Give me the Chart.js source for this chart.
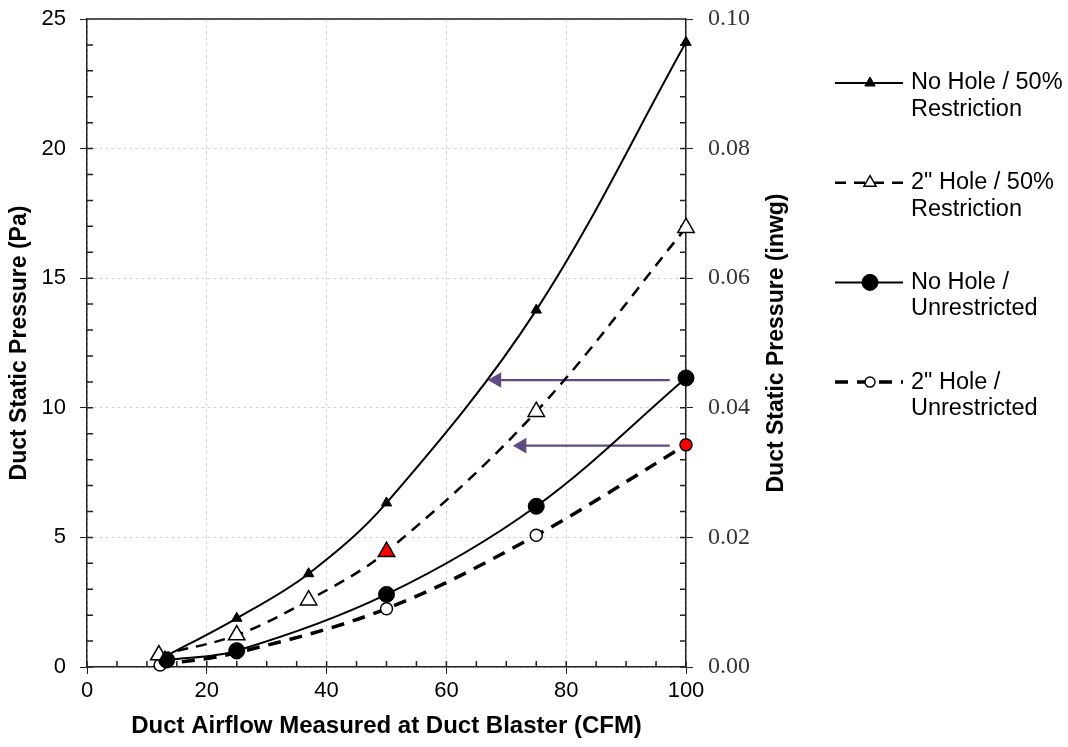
<!DOCTYPE html>
<html>
<head>
<meta charset="utf-8">
<script src="https://cdn.jsdelivr.net/npm/chart.js@4.4.0/dist/chart.umd.min.js"></script>
<style>
html, body { margin: 0; padding: 0; background: #fff; }
</style>
</head>
<body>
<canvas id="chart" width="1068" height="747"></canvas>
<script>
// airflow (CFM) and duct static pressure (Pa)
const cfmNoHole50 = [13, 25, 37, 50, 75, 100];
const paNoHole50 = [0.4, 1.88, 3.6, 6.33, 13.77, 24.1];

const cfmHole50 = [12, 25, 37, 50, 75, 100];
const paHole50 = [0.46, 1.23, 2.58, 4.45, 9.85, 16.95];

const cfmNoHoleUnr = [13.3, 25, 50, 75, 100];
const paNoHoleUnr = [0.27, 0.63, 2.8, 6.2, 11.15];

const cfmHoleUnr = [12.2, 25, 50, 75, 100];
const paHoleUnr = [0.08, 0.55, 2.25, 5.08, 8.57];

// arrows: [start, head] airflow and the pressure level they sit at
const arrowUpperCfm = [97.3, 68.4];
const arrowUpperPa = 11.07;
const arrowLowerCfm = [97.3, 72.6];
const arrowLowerPa = 8.54;

const seriesLabels = [
    ['No Hole / 50%', 'Restriction'],
    ['2" Hole / 50%', 'Restriction'],
    ['No Hole /', 'Unrestricted'],
    ['2" Hole /', 'Unrestricted']
];

const xTicks = [0, 20, 40, 60, 80, 100];
const yTicks = [0, 5, 10, 15, 20, 25];
const y2Ticks = [0, 0.02, 0.04, 0.06, 0.08, 0.10];

function pairs(xs, ys) {
    return xs.map((v, i) => ({ x: v, y: ys[i] }));
}

const SANS = '"Liberation Sans", Arial, sans-serif';
const SERIF = '"Liberation Serif", "Times New Roman", serif';
const ARROW = '#5e4b85';
const RED = '#ff0000';

Chart.defaults.font.family = SANS;
Chart.defaults.color = '#000';

function drawMarker(ctx, style, x, y, r, fill, lw) {
    ctx.beginPath();
    if (style === 'triangle') {
        ctx.moveTo(x, y - r);
        ctx.lineTo(x + r * 0.866, y + r * 0.5);
        ctx.lineTo(x - r * 0.866, y + r * 0.5);
        ctx.closePath();
    } else {
        ctx.arc(x, y, r, 0, Math.PI * 2);
    }
    ctx.fillStyle = fill;
    ctx.fill();
    ctx.lineWidth = lw;
    ctx.strokeStyle = '#000';
    ctx.stroke();
}

// vertical axes: no extra room for the end labels, the plot runs to the padding
function fitVertical(width) {
    return s => {
        s.width = width;
        s.paddingTop = 0;
        s.paddingBottom = 0;
    };
}

const extras = {
    id: 'extras',
    beforeDatasetsDraw(chart) {
        const { ctx, chartArea: a, scales: { x, y, y2 } } = chart;
        ctx.save();
        ctx.strokeStyle = '#222';
        ctx.lineWidth = 1.5;
        ctx.beginPath();
        // inner (minor) ticks
        for (let v = 0; v <= 100; v += 5) {
            const px = x.getPixelForValue(v);
            ctx.moveTo(px, a.bottom);
            ctx.lineTo(px, a.bottom - 6);
        }
        for (let v = 0; v <= 25; v += 1) {
            const py = y.getPixelForValue(v);
            ctx.moveTo(a.left, py);
            ctx.lineTo(a.left + 6, py);
        }
        for (let i = 0; i <= 25; i++) {
            const py = y2.getPixelForValue(i * 0.004);
            ctx.moveTo(a.right, py);
            ctx.lineTo(a.right - 6, py);
        }
        ctx.moveTo(a.left, a.top);
        ctx.lineTo(a.right, a.top);
        ctx.stroke();
        ctx.restore();
    },
    afterDraw(chart) {
        const { ctx, chartArea: a } = chart;
        ctx.save();

        // right axis title, reads bottom to top like the left one
        ctx.translate(777, (a.top + a.bottom) / 2);
        ctx.rotate(-Math.PI / 2);
        ctx.font = 'bold 23px ' + SANS;
        ctx.fillStyle = '#000';
        ctx.textAlign = 'center';
        ctx.textBaseline = 'middle';
        ctx.fillText('Duct Static Pressure (inwg)', 0, 0);
        ctx.setTransform(1, 0, 0, 1, 0, 0);

        // legend
        const markers = [
            { style: 'triangle', r: 6, fill: '#000', lw: 1 },
            { style: 'triangle', r: 7, fill: '#fff', lw: 1.5 },
            { style: 'circle', r: 8, fill: '#000', lw: 1 },
            { style: 'circle', r: 5, fill: '#fff', lw: 1.5 }
        ];
        seriesLabels.forEach((lines, i) => {
            const ds = chart.data.datasets[i];
            const yy = 83 + i * 99.7;
            ctx.beginPath();
            ctx.setLineDash(ds.borderDash || []);
            ctx.lineWidth = ds.borderWidth;
            ctx.strokeStyle = '#000';
            ctx.moveTo(835, yy);
            ctx.lineTo(903, yy);
            ctx.stroke();
            ctx.setLineDash([]);
            const m = markers[i];
            drawMarker(ctx, m.style, 870, yy, m.r, m.fill, m.lw);
            ctx.font = '23.5px ' + SANS;
            ctx.fillStyle = '#000';
            ctx.textAlign = 'left';
            ctx.textBaseline = 'middle';
            lines.forEach((t, k) => ctx.fillText(t, 911, yy + k * 26.5));
        });
        ctx.restore();
    }
};

new Chart(document.getElementById('chart'), {
    type: 'line',
    data: {
        datasets: [
            {
                label: seriesLabels[0].join(' '),
                data: pairs(cfmNoHole50, paNoHole50),
                borderColor: '#000',
                borderWidth: 2,
                pointStyle: 'triangle',
                pointRadius: 6,
                pointBackgroundColor: '#000',
                pointBorderColor: '#000',
                pointBorderWidth: 1,
                tension: 0.35
            },
            {
                label: seriesLabels[1].join(' '),
                data: pairs(cfmHole50, paHole50),
                borderColor: '#000',
                borderWidth: 2.5,
                borderDash: [11, 8],
                pointStyle: 'triangle',
                pointRadius: 9.5,
                pointBackgroundColor: c => c.dataIndex === 3 ? RED : '#fff',
                pointBorderColor: '#000',
                pointBorderWidth: 1.5,
                tension: 0.35
            },
            {
                label: seriesLabels[2].join(' '),
                data: pairs(cfmNoHoleUnr, paNoHoleUnr),
                borderColor: '#000',
                borderWidth: 2,
                pointStyle: 'circle',
                pointRadius: 8,
                pointBackgroundColor: '#000',
                pointBorderColor: '#000',
                pointBorderWidth: 1,
                tension: 0.35
            },
            {
                label: seriesLabels[3].join(' '),
                data: pairs(cfmHoleUnr, paHoleUnr),
                borderColor: '#000',
                borderWidth: 3.5,
                borderDash: [13, 9],
                pointStyle: 'circle',
                pointRadius: 6,
                pointBackgroundColor: c => c.dataIndex === 4 ? RED : '#fff',
                pointBorderColor: '#000',
                pointBorderWidth: 1.5,
                tension: 0.35
            },
            {
                label: 'arrow upper',
                data: arrowUpperCfm.map(v => ({ x: v, y: arrowUpperPa })),
                borderColor: ARROW,
                borderWidth: 2.2,
                pointStyle: 'triangle',
                pointRotation: 270,
                pointRadius: [0, 9],
                pointBackgroundColor: ARROW,
                pointBorderWidth: 0,
                tension: 0
            },
            {
                label: 'arrow lower',
                data: arrowLowerCfm.map(v => ({ x: v, y: arrowLowerPa })),
                borderColor: ARROW,
                borderWidth: 2.2,
                pointStyle: 'triangle',
                pointRotation: 270,
                pointRadius: [0, 9],
                pointBackgroundColor: ARROW,
                pointBorderWidth: 0,
                tension: 0
            }
        ]
    },
    options: {
        responsive: false,
        animation: false,
        clip: false,
        events: [],
        layout: { padding: { left: 0, top: 19, right: 268, bottom: 0 } },
        plugins: {
            legend: { display: false },
            tooltip: { enabled: false }
        },
        scales: {
            x: {
                type: 'linear',
                min: 0,
                max: 100,
                afterBuildTicks: s => { s.ticks = xTicks.map(v => ({ value: v })); },
                afterFit: s => { s.height = 80; },
                ticks: { font: { size: 22 }, color: '#000', padding: 4, maxRotation: 0 },
                grid: { color: '#d4d4d4', tickColor: '#222', tickLength: 7, lineWidth: 1 },
                border: { color: '#222', width: 1.5, dash: [3, 3] },
                title: {
                    display: true,
                    text: 'Duct Airflow Measured at Duct Blaster (CFM)',
                    font: { size: 24, weight: 'bold' },
                    color: '#000',
                    padding: { top: 0, bottom: 6 }
                }
            },
            y: {
                type: 'linear',
                position: 'left',
                min: 0,
                max: 25,
                afterBuildTicks: s => { s.ticks = yTicks.map(v => ({ value: v })); },
                afterFit: fitVertical(87),
                ticks: { font: { size: 22 }, color: '#000', padding: 14 },
                grid: { color: '#d4d4d4', tickColor: '#222', tickLength: 7, lineWidth: 1 },
                border: { color: '#222', width: 1.5, dash: [3, 3] },
                title: {
                    display: true,
                    text: 'Duct Static Pressure (Pa)',
                    font: { size: 23, weight: 'bold' },
                    color: '#000',
                    padding: { top: 6, bottom: 0 }
                }
            },
            y2: {
                type: 'linear',
                position: 'right',
                min: 0,
                max: 0.1,
                afterBuildTicks: s => { s.ticks = y2Ticks.map(v => ({ value: v })); },
                afterFit: fitVertical(114),
                ticks: {
                    font: { size: 24, family: SERIF },
                    color: '#333',
                    padding: 15,
                    callback: v => v.toFixed(2)
                },
                grid: { drawOnChartArea: false, tickColor: '#222', tickLength: 7 },
                border: { color: '#222', width: 1.5 }
            }
        }
    },
    plugins: [extras]
});
</script>
</body>
</html>
